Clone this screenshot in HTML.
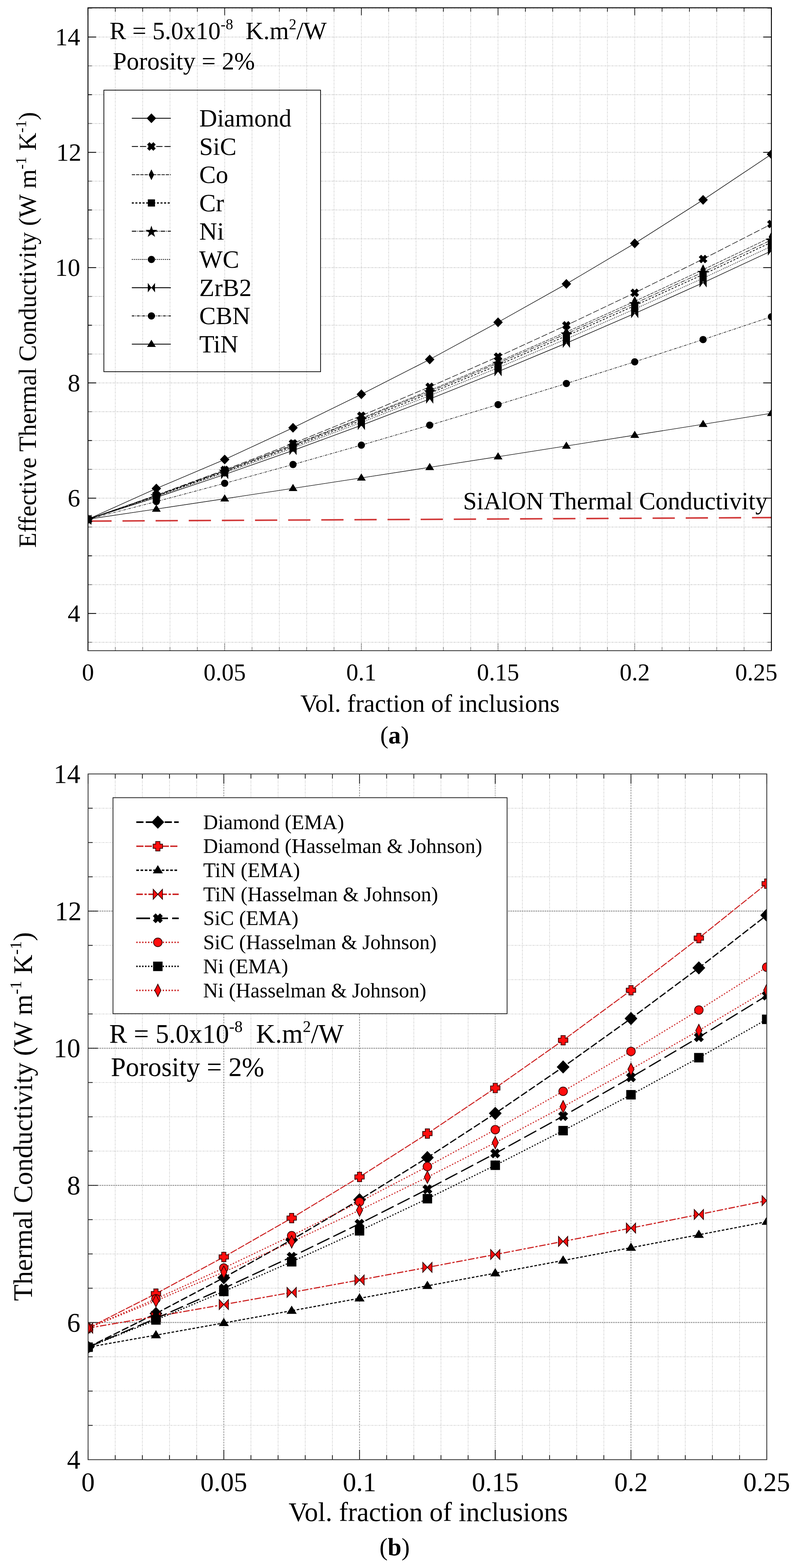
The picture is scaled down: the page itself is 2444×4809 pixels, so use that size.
<!DOCTYPE html>
<html><head><meta charset="utf-8"><title>Thermal conductivity plots</title><style>html,body{margin:0;padding:0;background:#fff;}svg{display:block;}</style></head><body>
<svg width="2444" height="4809" viewBox="0 0 2444 4809" font-family="'Liberation Serif', 'Times New Roman', serif" fill="#000">
<rect width="2444" height="4809" fill="#fff"/>
<defs><clipPath id="ca"><rect x="269.8" y="23.8" width="2095.7" height="1971.9"/></clipPath><clipPath id="cb"><rect x="270.1" y="2373.7" width="2081.2" height="2103.1"/></clipPath></defs>
<g stroke="#cecece" stroke-width="2.2" stroke-dasharray="5 2 2 2"><line x1="269.8" y1="1969.9" x2="2365.5" y2="1969.9"/><line x1="269.8" y1="1881.5" x2="2365.5" y2="1881.5"/><line x1="269.8" y1="1793.1" x2="2365.5" y2="1793.1"/><line x1="269.8" y1="1704.7" x2="2365.5" y2="1704.7"/><line x1="269.8" y1="1616.3" x2="2365.5" y2="1616.3"/><line x1="269.8" y1="1527.9" x2="2365.5" y2="1527.9"/><line x1="269.8" y1="1439.5" x2="2365.5" y2="1439.5"/><line x1="269.8" y1="1351.1" x2="2365.5" y2="1351.1"/><line x1="269.8" y1="1262.7" x2="2365.5" y2="1262.7"/><line x1="269.8" y1="1174.3" x2="2365.5" y2="1174.3"/><line x1="269.8" y1="1085.9" x2="2365.5" y2="1085.9"/><line x1="269.8" y1="997.5" x2="2365.5" y2="997.5"/><line x1="269.8" y1="909.2" x2="2365.5" y2="909.2"/><line x1="269.8" y1="820.8" x2="2365.5" y2="820.8"/><line x1="269.8" y1="732.4" x2="2365.5" y2="732.4"/><line x1="269.8" y1="644.0" x2="2365.5" y2="644.0"/><line x1="269.8" y1="555.6" x2="2365.5" y2="555.6"/><line x1="269.8" y1="467.2" x2="2365.5" y2="467.2"/><line x1="269.8" y1="378.8" x2="2365.5" y2="378.8"/><line x1="269.8" y1="290.4" x2="2365.5" y2="290.4"/><line x1="269.8" y1="202.0" x2="2365.5" y2="202.0"/><line x1="269.8" y1="113.6" x2="2365.5" y2="113.6"/><line x1="269.8" y1="25.2" x2="2365.5" y2="25.2"/></g>
<rect x="318.5" y="276.5" width="664.5" height="863.5" fill="#fff"/>
<g stroke="#d6d6d6" stroke-width="2.2" stroke-dasharray="5 2 2 2"><line x1="353.6" y1="23.8" x2="353.6" y2="1995.7"/><line x1="437.5" y1="23.8" x2="437.5" y2="1995.7"/><line x1="521.3" y1="23.8" x2="521.3" y2="1995.7"/><line x1="605.1" y1="23.8" x2="605.1" y2="1995.7"/><line x1="689.0" y1="23.8" x2="689.0" y2="1995.7"/><line x1="772.8" y1="23.8" x2="772.8" y2="1995.7"/><line x1="856.6" y1="23.8" x2="856.6" y2="1995.7"/><line x1="940.4" y1="23.8" x2="940.4" y2="1995.7"/><line x1="1024.3" y1="23.8" x2="1024.3" y2="1995.7"/><line x1="1108.1" y1="23.8" x2="1108.1" y2="1995.7"/><line x1="1191.9" y1="23.8" x2="1191.9" y2="1995.7"/><line x1="1275.8" y1="23.8" x2="1275.8" y2="1995.7"/><line x1="1359.6" y1="23.8" x2="1359.6" y2="1995.7"/><line x1="1443.4" y1="23.8" x2="1443.4" y2="1995.7"/><line x1="1527.2" y1="23.8" x2="1527.2" y2="1995.7"/><line x1="1611.1" y1="23.8" x2="1611.1" y2="1995.7"/><line x1="1694.9" y1="23.8" x2="1694.9" y2="1995.7"/><line x1="1778.7" y1="23.8" x2="1778.7" y2="1995.7"/><line x1="1862.6" y1="23.8" x2="1862.6" y2="1995.7"/><line x1="1946.4" y1="23.8" x2="1946.4" y2="1995.7"/><line x1="2030.2" y1="23.8" x2="2030.2" y2="1995.7"/><line x1="2114.1" y1="23.8" x2="2114.1" y2="1995.7"/><line x1="2197.9" y1="23.8" x2="2197.9" y2="1995.7"/><line x1="2281.7" y1="23.8" x2="2281.7" y2="1995.7"/></g>
<g stroke="#3a3a3a" stroke-width="1.7" stroke-dasharray="4 2"><line x1="269.8" y1="1995.7" x2="269.8" y2="1972.7"/><line x1="353.6" y1="1995.7" x2="353.6" y2="1983.7"/><line x1="437.5" y1="1995.7" x2="437.5" y2="1983.7"/><line x1="521.3" y1="1995.7" x2="521.3" y2="1983.7"/><line x1="605.1" y1="1995.7" x2="605.1" y2="1983.7"/><line x1="689.0" y1="1995.7" x2="689.0" y2="1972.7"/><line x1="772.8" y1="1995.7" x2="772.8" y2="1983.7"/><line x1="856.6" y1="1995.7" x2="856.6" y2="1983.7"/><line x1="940.4" y1="1995.7" x2="940.4" y2="1983.7"/><line x1="1024.3" y1="1995.7" x2="1024.3" y2="1983.7"/><line x1="1108.1" y1="1995.7" x2="1108.1" y2="1972.7"/><line x1="1191.9" y1="1995.7" x2="1191.9" y2="1983.7"/><line x1="1275.8" y1="1995.7" x2="1275.8" y2="1983.7"/><line x1="1359.6" y1="1995.7" x2="1359.6" y2="1983.7"/><line x1="1443.4" y1="1995.7" x2="1443.4" y2="1983.7"/><line x1="1527.2" y1="1995.7" x2="1527.2" y2="1972.7"/><line x1="1611.1" y1="1995.7" x2="1611.1" y2="1983.7"/><line x1="1694.9" y1="1995.7" x2="1694.9" y2="1983.7"/><line x1="1778.7" y1="1995.7" x2="1778.7" y2="1983.7"/><line x1="1862.6" y1="1995.7" x2="1862.6" y2="1983.7"/><line x1="1946.4" y1="1995.7" x2="1946.4" y2="1972.7"/><line x1="2030.2" y1="1995.7" x2="2030.2" y2="1983.7"/><line x1="2114.1" y1="1995.7" x2="2114.1" y2="1983.7"/><line x1="2197.9" y1="1995.7" x2="2197.9" y2="1983.7"/><line x1="2281.7" y1="1995.7" x2="2281.7" y2="1983.7"/><line x1="2365.6" y1="1995.7" x2="2365.6" y2="1972.7"/></g>
<g stroke="#111" stroke-width="2.2"><line x1="269.8" y1="23.8" x2="269.8" y2="46.8"/><line x1="353.6" y1="23.8" x2="353.6" y2="35.8"/><line x1="437.5" y1="23.8" x2="437.5" y2="35.8"/><line x1="521.3" y1="23.8" x2="521.3" y2="35.8"/><line x1="605.1" y1="23.8" x2="605.1" y2="35.8"/><line x1="689.0" y1="23.8" x2="689.0" y2="46.8"/><line x1="772.8" y1="23.8" x2="772.8" y2="35.8"/><line x1="856.6" y1="23.8" x2="856.6" y2="35.8"/><line x1="940.4" y1="23.8" x2="940.4" y2="35.8"/><line x1="1024.3" y1="23.8" x2="1024.3" y2="35.8"/><line x1="1108.1" y1="23.8" x2="1108.1" y2="46.8"/><line x1="1191.9" y1="23.8" x2="1191.9" y2="35.8"/><line x1="1275.8" y1="23.8" x2="1275.8" y2="35.8"/><line x1="1359.6" y1="23.8" x2="1359.6" y2="35.8"/><line x1="1443.4" y1="23.8" x2="1443.4" y2="35.8"/><line x1="1527.2" y1="23.8" x2="1527.2" y2="46.8"/><line x1="1611.1" y1="23.8" x2="1611.1" y2="35.8"/><line x1="1694.9" y1="23.8" x2="1694.9" y2="35.8"/><line x1="1778.7" y1="23.8" x2="1778.7" y2="35.8"/><line x1="1862.6" y1="23.8" x2="1862.6" y2="35.8"/><line x1="1946.4" y1="23.8" x2="1946.4" y2="46.8"/><line x1="2030.2" y1="23.8" x2="2030.2" y2="35.8"/><line x1="2114.1" y1="23.8" x2="2114.1" y2="35.8"/><line x1="2197.9" y1="23.8" x2="2197.9" y2="35.8"/><line x1="2281.7" y1="23.8" x2="2281.7" y2="35.8"/><line x1="2365.6" y1="23.8" x2="2365.6" y2="46.8"/></g>
<g stroke="#000" stroke-width="2.5"><line x1="269.8" y1="1881.5" x2="294.8" y2="1881.5"/><line x1="2365.5" y1="1881.5" x2="2340.5" y2="1881.5"/><line x1="269.8" y1="1704.7" x2="281.8" y2="1704.7"/><line x1="2365.5" y1="1704.7" x2="2353.5" y2="1704.7"/><line x1="269.8" y1="1527.9" x2="294.8" y2="1527.9"/><line x1="2365.5" y1="1527.9" x2="2340.5" y2="1527.9"/><line x1="269.8" y1="1351.1" x2="281.8" y2="1351.1"/><line x1="2365.5" y1="1351.1" x2="2353.5" y2="1351.1"/><line x1="269.8" y1="1174.3" x2="294.8" y2="1174.3"/><line x1="2365.5" y1="1174.3" x2="2340.5" y2="1174.3"/><line x1="269.8" y1="997.5" x2="281.8" y2="997.5"/><line x1="2365.5" y1="997.5" x2="2353.5" y2="997.5"/><line x1="269.8" y1="820.8" x2="294.8" y2="820.8"/><line x1="2365.5" y1="820.8" x2="2340.5" y2="820.8"/><line x1="269.8" y1="644.0" x2="281.8" y2="644.0"/><line x1="2365.5" y1="644.0" x2="2353.5" y2="644.0"/><line x1="269.8" y1="467.2" x2="294.8" y2="467.2"/><line x1="2365.5" y1="467.2" x2="2340.5" y2="467.2"/><line x1="269.8" y1="290.4" x2="281.8" y2="290.4"/><line x1="2365.5" y1="290.4" x2="2353.5" y2="290.4"/><line x1="269.8" y1="113.6" x2="294.8" y2="113.6"/><line x1="2365.5" y1="113.6" x2="2340.5" y2="113.6"/></g>
<g stroke="#7a7a7a" stroke-width="2.5"><line x1="269.8" y1="1969.9" x2="281.8" y2="1969.9"/><line x1="2365.5" y1="1969.9" x2="2353.5" y2="1969.9"/><line x1="269.8" y1="1793.1" x2="281.8" y2="1793.1"/><line x1="2365.5" y1="1793.1" x2="2353.5" y2="1793.1"/><line x1="269.8" y1="1616.3" x2="281.8" y2="1616.3"/><line x1="2365.5" y1="1616.3" x2="2353.5" y2="1616.3"/><line x1="269.8" y1="1439.5" x2="281.8" y2="1439.5"/><line x1="2365.5" y1="1439.5" x2="2353.5" y2="1439.5"/><line x1="269.8" y1="1262.7" x2="281.8" y2="1262.7"/><line x1="2365.5" y1="1262.7" x2="2353.5" y2="1262.7"/><line x1="269.8" y1="1085.9" x2="281.8" y2="1085.9"/><line x1="2365.5" y1="1085.9" x2="2353.5" y2="1085.9"/><line x1="269.8" y1="909.2" x2="281.8" y2="909.2"/><line x1="2365.5" y1="909.2" x2="2353.5" y2="909.2"/><line x1="269.8" y1="732.4" x2="281.8" y2="732.4"/><line x1="2365.5" y1="732.4" x2="2353.5" y2="732.4"/><line x1="269.8" y1="555.6" x2="281.8" y2="555.6"/><line x1="2365.5" y1="555.6" x2="2353.5" y2="555.6"/><line x1="269.8" y1="378.8" x2="281.8" y2="378.8"/><line x1="2365.5" y1="378.8" x2="2353.5" y2="378.8"/><line x1="269.8" y1="202.0" x2="281.8" y2="202.0"/><line x1="2365.5" y1="202.0" x2="2353.5" y2="202.0"/><line x1="269.8" y1="25.2" x2="281.8" y2="25.2"/><line x1="2365.5" y1="25.2" x2="2353.5" y2="25.2"/></g>
<line x1="274" y1="1598.2" x2="2365" y2="1587.4" stroke="#d13838" stroke-width="4.6" stroke-dasharray="68.2 33.4"/>
<g clip-path="url(#ca)">
<polyline points="269.8,1592.4 479.4,1498.2 689.0,1409.3 898.5,1311.9 1108.1,1209.3 1317.7,1102.4 1527.3,988.4 1736.8,870.8 1946.4,746.5 2156.0,613.0 2365.6,473.0" fill="none" stroke="#000" stroke-width="1.6" stroke-linejoin="round"/>
<polyline points="269.8,1592.4 479.4,1518.7 689.0,1441.2 898.5,1360.0 1108.1,1275.0 1317.7,1186.4 1527.3,1094.0 1736.8,997.8 1946.4,898.0 2156.0,794.4 2365.6,687.1" fill="none" stroke="#000" stroke-width="1.6" stroke-dasharray="19 6" stroke-linejoin="round"/>
<polyline points="269.8,1592.4 479.4,1519.4 689.0,1443.4 898.5,1364.4 1108.1,1282.4 1317.7,1197.3 1527.3,1109.3 1736.8,1018.2 1946.4,924.2 2156.0,827.1 2365.6,727.1" fill="none" stroke="#000" stroke-width="1.4" stroke-dasharray="10 3" stroke-linejoin="round"/>
<polyline points="269.8,1592.4 479.4,1521.3 689.0,1447.2 898.5,1369.9 1108.1,1289.6 1317.7,1206.2 1527.3,1119.7 1736.8,1030.1 1946.4,937.5 2156.0,841.8 2365.6,743.0" fill="none" stroke="#000" stroke-width="2.2" stroke-dasharray="6 5" stroke-linejoin="round"/>
<polyline points="269.8,1592.4 479.4,1520.0 689.0,1444.6 898.5,1366.3 1108.1,1285.0 1317.7,1200.9 1527.3,1113.7 1736.8,1023.7 1946.4,930.7 2156.0,834.8 2365.6,735.9" fill="none" stroke="#000" stroke-width="1.6" stroke-dasharray="14 3 2 3" stroke-linejoin="round"/>
<polyline points="269.8,1592.4 479.4,1522.9 689.0,1450.2 898.5,1374.4 1108.1,1295.4 1317.7,1213.2 1527.3,1128.0 1736.8,1039.5 1946.4,947.9 2156.0,853.2 2365.6,755.3" fill="none" stroke="#000" stroke-width="1.6" stroke-dasharray="3 3" stroke-linejoin="round"/>
<polyline points="269.8,1592.4 479.4,1525.6 689.0,1455.3 898.5,1381.6 1108.1,1304.4 1317.7,1223.8 1527.3,1139.8 1736.8,1052.4 1946.4,961.5 2156.0,867.2 2365.6,769.5" fill="none" stroke="#000" stroke-width="1.7" stroke-linejoin="round"/>
<polyline points="269.8,1592.4 479.4,1538.3 689.0,1482.3 898.5,1424.6 1108.1,1365.2 1317.7,1303.9 1527.3,1240.9 1736.8,1176.2 1946.4,1109.7 2156.0,1041.4 2365.6,971.4" fill="none" stroke="#000" stroke-width="1.6" stroke-dasharray="8 3 2 3" stroke-linejoin="round"/>
<polyline points="269.8,1592.4 479.4,1561.2 689.0,1529.6 898.5,1497.8 1108.1,1465.7 1317.7,1433.3 1527.3,1400.7 1736.8,1367.8 1946.4,1334.6 2156.0,1301.2 2365.6,1267.5" fill="none" stroke="#000" stroke-width="1.6" stroke-linejoin="round"/>
<polygon points="269.8,1577.4 284.3,1592.4 269.8,1607.4 255.3,1592.4" fill="#000"/>
<polygon points="479.4,1483.2 493.9,1498.2 479.4,1513.2 464.9,1498.2" fill="#000"/>
<polygon points="689.0,1394.3 703.5,1409.3 689.0,1424.3 674.5,1409.3" fill="#000"/>
<polygon points="898.5,1296.9 913.0,1311.9 898.5,1326.9 884.0,1311.9" fill="#000"/>
<polygon points="1108.1,1194.3 1122.6,1209.3 1108.1,1224.3 1093.6,1209.3" fill="#000"/>
<polygon points="1317.7,1087.4 1332.2,1102.4 1317.7,1117.4 1303.2,1102.4" fill="#000"/>
<polygon points="1527.3,973.4 1541.8,988.4 1527.3,1003.4 1512.8,988.4" fill="#000"/>
<polygon points="1736.8,855.8 1751.3,870.8 1736.8,885.8 1722.3,870.8" fill="#000"/>
<polygon points="1946.4,731.5 1960.9,746.5 1946.4,761.5 1931.9,746.5" fill="#000"/>
<polygon points="2156.0,598.0 2170.5,613.0 2156.0,628.0 2141.5,613.0" fill="#000"/>
<polygon points="2365.6,458.0 2380.1,473.0 2365.6,488.0 2351.1,473.0" fill="#000"/>
<polygon points="283.0,1598.3 275.7,1605.7 269.8,1599.8 263.9,1605.7 256.6,1598.3 262.5,1592.4 256.6,1586.6 263.9,1579.2 269.8,1585.1 275.7,1579.2 283.0,1586.6 277.1,1592.4" fill="#000"/>
<polygon points="492.6,1524.6 485.2,1531.9 479.4,1526.0 473.5,1531.9 466.2,1524.6 472.0,1518.7 466.2,1512.8 473.5,1505.5 479.4,1511.4 485.2,1505.5 492.6,1512.8 486.7,1518.7" fill="#000"/>
<polygon points="702.2,1447.1 694.8,1454.4 689.0,1448.5 683.1,1454.4 675.7,1447.1 681.6,1441.2 675.7,1435.3 683.1,1428.0 689.0,1433.9 694.8,1428.0 702.2,1435.3 696.3,1441.2" fill="#000"/>
<polygon points="911.7,1365.8 904.4,1373.2 898.5,1367.3 892.7,1373.2 885.3,1365.8 891.2,1360.0 885.3,1354.1 892.7,1346.8 898.5,1352.6 904.4,1346.8 911.7,1354.1 905.9,1360.0" fill="#000"/>
<polygon points="1121.3,1280.9 1114.0,1288.3 1108.1,1282.4 1102.2,1288.3 1094.9,1280.9 1100.8,1275.0 1094.9,1269.2 1102.2,1261.8 1108.1,1267.7 1114.0,1261.8 1121.3,1269.2 1115.4,1275.0" fill="#000"/>
<polygon points="1330.9,1192.2 1323.5,1199.6 1317.7,1193.7 1311.8,1199.6 1304.5,1192.2 1310.3,1186.4 1304.5,1180.5 1311.8,1173.1 1317.7,1179.0 1323.5,1173.1 1330.9,1180.5 1325.0,1186.4" fill="#000"/>
<polygon points="1540.5,1099.8 1533.1,1107.2 1527.3,1101.3 1521.4,1107.2 1514.0,1099.8 1519.9,1094.0 1514.0,1088.1 1521.4,1080.7 1527.3,1086.6 1533.1,1080.7 1540.5,1088.1 1534.6,1094.0" fill="#000"/>
<polygon points="1750.0,1003.7 1742.7,1011.1 1736.8,1005.2 1731.0,1011.1 1723.6,1003.7 1729.5,997.8 1723.6,992.0 1731.0,984.6 1736.8,990.5 1742.7,984.6 1750.0,992.0 1744.2,997.8" fill="#000"/>
<polygon points="1959.6,903.9 1952.3,911.2 1946.4,905.3 1940.5,911.2 1933.2,903.9 1939.1,898.0 1933.2,892.1 1940.5,884.8 1946.4,890.7 1952.3,884.8 1959.6,892.1 1953.7,898.0" fill="#000"/>
<polygon points="2169.2,800.3 2161.8,807.6 2156.0,801.7 2150.1,807.6 2142.8,800.3 2148.6,794.4 2142.8,788.5 2150.1,781.2 2156.0,787.1 2161.8,781.2 2169.2,788.5 2163.3,794.4" fill="#000"/>
<polygon points="2378.8,693.0 2371.4,700.3 2365.6,694.4 2359.7,700.3 2352.3,693.0 2358.2,687.1 2352.3,681.2 2359.7,673.9 2365.6,679.8 2371.4,673.9 2378.8,681.2 2372.9,687.1" fill="#000"/>
<polygon points="269.8,1575.9 278.1,1592.4 269.8,1608.9 261.5,1592.4" fill="#000"/>
<polygon points="479.4,1502.9 487.7,1519.4 479.4,1535.9 471.1,1519.4" fill="#000"/>
<polygon points="689.0,1426.9 697.2,1443.4 689.0,1459.9 680.7,1443.4" fill="#000"/>
<polygon points="898.5,1347.9 906.8,1364.4 898.5,1380.9 890.2,1364.4" fill="#000"/>
<polygon points="1108.1,1265.9 1116.4,1282.4 1108.1,1298.9 1099.8,1282.4" fill="#000"/>
<polygon points="1317.7,1180.8 1326.0,1197.3 1317.7,1213.8 1309.4,1197.3" fill="#000"/>
<polygon points="1527.3,1092.8 1535.6,1109.3 1527.3,1125.8 1519.0,1109.3" fill="#000"/>
<polygon points="1736.8,1001.7 1745.1,1018.2 1736.8,1034.7 1728.5,1018.2" fill="#000"/>
<polygon points="1946.4,907.7 1954.7,924.2 1946.4,940.7 1938.1,924.2" fill="#000"/>
<polygon points="2156.0,810.6 2164.3,827.1 2156.0,843.6 2147.7,827.1" fill="#000"/>
<polygon points="2365.6,710.6 2373.9,727.1 2365.6,743.6 2357.2,727.1" fill="#000"/>
<rect x="258.8" y="1581.4" width="22.0" height="22.0" fill="#000"/>
<rect x="468.4" y="1510.3" width="22.0" height="22.0" fill="#000"/>
<rect x="678.0" y="1436.2" width="22.0" height="22.0" fill="#000"/>
<rect x="887.5" y="1358.9" width="22.0" height="22.0" fill="#000"/>
<rect x="1097.1" y="1278.6" width="22.0" height="22.0" fill="#000"/>
<rect x="1306.7" y="1195.2" width="22.0" height="22.0" fill="#000"/>
<rect x="1516.3" y="1108.7" width="22.0" height="22.0" fill="#000"/>
<rect x="1725.8" y="1019.1" width="22.0" height="22.0" fill="#000"/>
<rect x="1935.4" y="926.5" width="22.0" height="22.0" fill="#000"/>
<rect x="2145.0" y="830.8" width="22.0" height="22.0" fill="#000"/>
<rect x="2354.6" y="732.0" width="22.0" height="22.0" fill="#000"/>
<polygon points="269.8,1575.4 274.2,1588.4 287.9,1588.6 276.9,1596.8 281.0,1609.8 269.8,1601.9 258.6,1609.8 262.7,1596.8 251.7,1588.6 265.4,1588.4" fill="#000"/>
<polygon points="479.4,1503.0 483.8,1515.9 497.4,1516.1 486.5,1524.3 490.5,1537.4 479.4,1529.5 468.2,1537.4 472.2,1524.3 461.3,1516.1 475.0,1515.9" fill="#000"/>
<polygon points="689.0,1427.6 693.4,1440.5 707.0,1440.7 696.1,1448.9 700.1,1462.0 689.0,1454.1 677.8,1462.0 681.8,1448.9 670.9,1440.7 684.5,1440.5" fill="#000"/>
<polygon points="898.5,1349.3 902.9,1362.2 916.6,1362.4 905.7,1370.6 909.7,1383.7 898.5,1375.8 887.4,1383.7 891.4,1370.6 880.5,1362.4 894.1,1362.2" fill="#000"/>
<polygon points="1108.1,1268.0 1112.5,1281.0 1126.2,1281.2 1115.2,1289.4 1119.3,1302.4 1108.1,1294.5 1096.9,1302.4 1101.0,1289.4 1090.0,1281.2 1103.7,1281.0" fill="#000"/>
<polygon points="1317.7,1183.9 1322.1,1196.8 1335.7,1197.0 1324.8,1205.2 1328.8,1218.2 1317.7,1210.4 1306.5,1218.2 1310.5,1205.2 1299.6,1197.0 1313.3,1196.8" fill="#000"/>
<polygon points="1527.3,1096.7 1531.7,1109.7 1545.3,1109.9 1534.4,1118.1 1538.4,1131.1 1527.3,1123.2 1516.1,1131.1 1520.1,1118.1 1509.2,1109.9 1522.8,1109.7" fill="#000"/>
<polygon points="1736.8,1006.7 1741.2,1019.6 1754.9,1019.8 1744.0,1028.0 1748.0,1041.1 1736.8,1033.2 1725.7,1041.1 1729.7,1028.0 1718.8,1019.8 1732.4,1019.6" fill="#000"/>
<polygon points="1946.4,913.7 1950.8,926.6 1964.5,926.8 1953.5,935.0 1957.6,948.1 1946.4,940.2 1935.2,948.1 1939.3,935.0 1928.3,926.8 1942.0,926.6" fill="#000"/>
<polygon points="2156.0,817.8 2160.4,830.7 2174.0,830.9 2163.1,839.1 2167.1,852.1 2156.0,844.3 2144.8,852.1 2148.8,839.1 2137.9,830.9 2151.6,830.7" fill="#000"/>
<polygon points="2365.6,718.9 2370.0,731.8 2383.6,732.0 2372.7,740.2 2376.7,753.3 2365.6,745.4 2354.4,753.3 2358.4,740.2 2347.5,732.0 2361.1,731.8" fill="#000"/>
<circle cx="269.8" cy="1592.4" r="11.0" fill="#000"/>
<circle cx="479.4" cy="1522.9" r="11.0" fill="#000"/>
<circle cx="689.0" cy="1450.2" r="11.0" fill="#000"/>
<circle cx="898.5" cy="1374.4" r="11.0" fill="#000"/>
<circle cx="1108.1" cy="1295.4" r="11.0" fill="#000"/>
<circle cx="1317.7" cy="1213.2" r="11.0" fill="#000"/>
<circle cx="1527.3" cy="1128.0" r="11.0" fill="#000"/>
<circle cx="1736.8" cy="1039.5" r="11.0" fill="#000"/>
<circle cx="1946.4" cy="947.9" r="11.0" fill="#000"/>
<circle cx="2156.0" cy="853.2" r="11.0" fill="#000"/>
<circle cx="2365.6" cy="755.3" r="11.0" fill="#000"/>
<polygon points="258.8,1577.9 269.8,1592.4 258.8,1606.9" fill="#000"/><polygon points="280.8,1577.9 269.8,1592.4 280.8,1606.9" fill="#000"/>
<polygon points="468.4,1511.1 479.4,1525.6 468.4,1540.1" fill="#000"/><polygon points="490.4,1511.1 479.4,1525.6 490.4,1540.1" fill="#000"/>
<polygon points="678.0,1440.8 689.0,1455.3 678.0,1469.8" fill="#000"/><polygon points="700.0,1440.8 689.0,1455.3 700.0,1469.8" fill="#000"/>
<polygon points="887.5,1367.1 898.5,1381.6 887.5,1396.1" fill="#000"/><polygon points="909.5,1367.1 898.5,1381.6 909.5,1396.1" fill="#000"/>
<polygon points="1097.1,1289.9 1108.1,1304.4 1097.1,1318.9" fill="#000"/><polygon points="1119.1,1289.9 1108.1,1304.4 1119.1,1318.9" fill="#000"/>
<polygon points="1306.7,1209.3 1317.7,1223.8 1306.7,1238.3" fill="#000"/><polygon points="1328.7,1209.3 1317.7,1223.8 1328.7,1238.3" fill="#000"/>
<polygon points="1516.3,1125.3 1527.3,1139.8 1516.3,1154.3" fill="#000"/><polygon points="1538.3,1125.3 1527.3,1139.8 1538.3,1154.3" fill="#000"/>
<polygon points="1725.8,1037.9 1736.8,1052.4 1725.8,1066.9" fill="#000"/><polygon points="1747.8,1037.9 1736.8,1052.4 1747.8,1066.9" fill="#000"/>
<polygon points="1935.4,947.0 1946.4,961.5 1935.4,976.0" fill="#000"/><polygon points="1957.4,947.0 1946.4,961.5 1957.4,976.0" fill="#000"/>
<polygon points="2145.0,852.7 2156.0,867.2 2145.0,881.7" fill="#000"/><polygon points="2167.0,852.7 2156.0,867.2 2167.0,881.7" fill="#000"/>
<polygon points="2354.6,755.0 2365.6,769.5 2354.6,784.0" fill="#000"/><polygon points="2376.6,755.0 2365.6,769.5 2376.6,784.0" fill="#000"/>
<circle cx="269.8" cy="1592.4" r="11.0" fill="#000"/>
<circle cx="479.4" cy="1538.3" r="11.0" fill="#000"/>
<circle cx="689.0" cy="1482.3" r="11.0" fill="#000"/>
<circle cx="898.5" cy="1424.6" r="11.0" fill="#000"/>
<circle cx="1108.1" cy="1365.2" r="11.0" fill="#000"/>
<circle cx="1317.7" cy="1303.9" r="11.0" fill="#000"/>
<circle cx="1527.3" cy="1240.9" r="11.0" fill="#000"/>
<circle cx="1736.8" cy="1176.2" r="11.0" fill="#000"/>
<circle cx="1946.4" cy="1109.7" r="11.0" fill="#000"/>
<circle cx="2156.0" cy="1041.4" r="11.0" fill="#000"/>
<circle cx="2365.6" cy="971.4" r="11.0" fill="#000"/>
<polygon points="269.8,1578.8 283.3,1600.8 256.3,1600.8" fill="#000"/>
<polygon points="479.4,1547.5 492.9,1569.5 465.9,1569.5" fill="#000"/>
<polygon points="689.0,1516.0 702.5,1538.0 675.5,1538.0" fill="#000"/>
<polygon points="898.5,1484.1 912.0,1506.1 885.0,1506.1" fill="#000"/>
<polygon points="1108.1,1452.1 1121.6,1474.1 1094.6,1474.1" fill="#000"/>
<polygon points="1317.7,1419.7 1331.2,1441.7 1304.2,1441.7" fill="#000"/>
<polygon points="1527.3,1387.1 1540.8,1409.1 1513.8,1409.1" fill="#000"/>
<polygon points="1736.8,1354.2 1750.3,1376.2 1723.3,1376.2" fill="#000"/>
<polygon points="1946.4,1321.0 1959.9,1343.0 1932.9,1343.0" fill="#000"/>
<polygon points="2156.0,1287.6 2169.5,1309.6 2142.5,1309.6" fill="#000"/>
<polygon points="2365.6,1253.9 2379.1,1275.9 2352.1,1275.9" fill="#000"/>
</g>
<polyline points="269.8,1995.7 269.8,23.8 2365.5,23.8 2365.5,1995.7" fill="none" stroke="#000" stroke-width="2.8"/>
<line x1="268.4" y1="1995.7" x2="2366.9" y2="1995.7" stroke="#444" stroke-width="2.8"/>
<rect x="318.5" y="276.5" width="664.5" height="863.5" fill="none" stroke="#000" stroke-width="2.2"/>
<polyline points="404.3,362.7 523.8,362.7" fill="none" stroke="#000" stroke-width="2.6" stroke-linejoin="round"/>
<polygon points="464.3,347.7 478.8,362.7 464.3,377.7 449.8,362.7" fill="#000"/>
<text x="611.0" y="388.2" font-size="76" text-anchor="start">Diamond</text>
<polyline points="404.3,449.3 523.8,449.3" fill="none" stroke="#000" stroke-width="2.6" stroke-dasharray="19 6" stroke-linejoin="round"/>
<polygon points="477.5,455.2 470.2,462.5 464.3,456.6 458.4,462.5 451.1,455.2 457.0,449.3 451.1,443.4 458.4,436.1 464.3,442.0 470.2,436.1 477.5,443.4 471.6,449.3" fill="#000"/>
<text x="611.0" y="474.8" font-size="76" text-anchor="start">SiC</text>
<polyline points="404.3,535.9 523.8,535.9" fill="none" stroke="#000" stroke-width="2.4" stroke-dasharray="10 3" stroke-linejoin="round"/>
<polygon points="464.3,519.4 472.6,535.9 464.3,552.4 456.0,535.9" fill="#000"/>
<text x="611.0" y="561.4" font-size="76" text-anchor="start">Co</text>
<polyline points="404.3,622.5 523.8,622.5" fill="none" stroke="#000" stroke-width="4.2" stroke-dasharray="6 5" stroke-linejoin="round"/>
<rect x="453.3" y="611.5" width="22.0" height="22.0" fill="#000"/>
<text x="611.0" y="648.0" font-size="76" text-anchor="start">Cr</text>
<polyline points="404.3,709.1 523.8,709.1" fill="none" stroke="#000" stroke-width="2.6" stroke-dasharray="14 3 2 3" stroke-linejoin="round"/>
<polygon points="464.3,692.1 468.7,705.0 482.4,705.2 471.4,713.4 475.5,726.5 464.3,718.6 453.1,726.5 457.2,713.4 446.2,705.2 459.9,705.0" fill="#000"/>
<text x="611.0" y="734.6" font-size="76" text-anchor="start">Ni</text>
<polyline points="404.3,795.7 523.8,795.7" fill="none" stroke="#000" stroke-width="2.6" stroke-dasharray="3 3" stroke-linejoin="round"/>
<circle cx="464.3" cy="795.7" r="11.0" fill="#000"/>
<text x="611.0" y="821.2" font-size="76" text-anchor="start">WC</text>
<polyline points="404.3,882.3 523.8,882.3" fill="none" stroke="#000" stroke-width="2.7" stroke-linejoin="round"/>
<polygon points="453.3,867.8 464.3,882.3 453.3,896.8" fill="#000"/><polygon points="475.3,867.8 464.3,882.3 475.3,896.8" fill="#000"/>
<text x="611.0" y="907.8" font-size="76" text-anchor="start">ZrB2</text>
<polyline points="404.3,968.9 523.8,968.9" fill="none" stroke="#000" stroke-width="2.6" stroke-dasharray="8 3 2 3" stroke-linejoin="round"/>
<circle cx="464.3" cy="968.9" r="11.0" fill="#000"/>
<text x="611.0" y="994.4" font-size="76" text-anchor="start">CBN</text>
<polyline points="404.3,1055.5 523.8,1055.5" fill="none" stroke="#000" stroke-width="2.6" stroke-linejoin="round"/>
<polygon points="464.3,1041.9 477.8,1063.9 450.8,1063.9" fill="#000"/>
<text x="611.0" y="1081.0" font-size="76" text-anchor="start">TiN</text>
<text x="336.0" y="119.8" font-size="76" text-anchor="start" xml:space="preserve">R = 5.0x10<tspan dy="-30" font-size="46">-8</tspan><tspan dy="30"> </tspan> K.m<tspan dy="-30" font-size="46">2</tspan><tspan dy="30">/W</tspan></text>
<text x="346.0" y="213.4" font-size="76" text-anchor="start">Porosity = 2%</text>
<text x="1420.0" y="1562.2" font-size="75.5" text-anchor="start">SiAlON Thermal Conductivity</text>
<text x="246.0" y="139.1" font-size="77" text-anchor="end">14</text>
<text x="249.5" y="492.7" font-size="77" text-anchor="end">12</text>
<text x="246.0" y="846.3" font-size="77" text-anchor="end">10</text>
<text x="246.0" y="1199.8" font-size="77" text-anchor="end">8</text>
<text x="246.0" y="1553.4" font-size="77" text-anchor="end">6</text>
<text x="246.0" y="1907.0" font-size="77" text-anchor="end">4</text>
<text x="269.8" y="2086.5" font-size="74" text-anchor="middle">0</text>
<text x="689.0" y="2086.5" font-size="74" text-anchor="middle">0.05</text>
<text x="1108.1" y="2086.5" font-size="74" text-anchor="middle">0.1</text>
<text x="1527.2" y="2086.5" font-size="74" text-anchor="middle">0.15</text>
<text x="1946.4" y="2086.5" font-size="74" text-anchor="middle">0.2</text>
<text x="2384.0" y="2086.5" font-size="74" text-anchor="end">0.25</text>
<text x="921.0" y="2183.3" font-size="76.7" text-anchor="start">Vol. fraction of inclusions</text>
<text transform="translate(110,1680) rotate(-90)" font-size="76">Effective Thermal Conductivity (W m<tspan dy="-30" font-size="46">-1</tspan><tspan dy="30"> K</tspan><tspan dy="-30" font-size="46">-1</tspan><tspan dy="30">)</tspan></text>
<text x="1210" y="2279.5" font-size="76" text-anchor="middle">(<tspan font-weight="bold">a</tspan>)</text>
<g stroke="#d6d6d6" stroke-width="2.2" stroke-dasharray="5 2 2 2"><line x1="353.3" y1="2373.7" x2="353.3" y2="4476.8"/><line x1="436.6" y1="2373.7" x2="436.6" y2="4476.8"/><line x1="519.8" y1="2373.7" x2="519.8" y2="4476.8"/><line x1="603.1" y1="2373.7" x2="603.1" y2="4476.8"/><line x1="769.5" y1="2373.7" x2="769.5" y2="4476.8"/><line x1="852.8" y1="2373.7" x2="852.8" y2="4476.8"/><line x1="936.0" y1="2373.7" x2="936.0" y2="4476.8"/><line x1="1019.3" y1="2373.7" x2="1019.3" y2="4476.8"/><line x1="1185.7" y1="2373.7" x2="1185.7" y2="4476.8"/><line x1="1269.0" y1="2373.7" x2="1269.0" y2="4476.8"/><line x1="1352.2" y1="2373.7" x2="1352.2" y2="4476.8"/><line x1="1435.5" y1="2373.7" x2="1435.5" y2="4476.8"/><line x1="1601.9" y1="2373.7" x2="1601.9" y2="4476.8"/><line x1="1685.2" y1="2373.7" x2="1685.2" y2="4476.8"/><line x1="1768.4" y1="2373.7" x2="1768.4" y2="4476.8"/><line x1="1851.7" y1="2373.7" x2="1851.7" y2="4476.8"/><line x1="2018.1" y1="2373.7" x2="2018.1" y2="4476.8"/><line x1="2101.4" y1="2373.7" x2="2101.4" y2="4476.8"/><line x1="2184.6" y1="2373.7" x2="2184.6" y2="4476.8"/><line x1="2267.9" y1="2373.7" x2="2267.9" y2="4476.8"/><line x1="270.1" y1="4371.6" x2="2351.3" y2="4371.6"/><line x1="270.1" y1="4266.4" x2="2351.3" y2="4266.4"/><line x1="270.1" y1="4161.2" x2="2351.3" y2="4161.2"/><line x1="270.1" y1="3950.9" x2="2351.3" y2="3950.9"/><line x1="270.1" y1="3845.8" x2="2351.3" y2="3845.8"/><line x1="270.1" y1="3740.6" x2="2351.3" y2="3740.6"/><line x1="270.1" y1="3530.3" x2="2351.3" y2="3530.3"/><line x1="270.1" y1="3425.2" x2="2351.3" y2="3425.2"/><line x1="270.1" y1="3320.0" x2="2351.3" y2="3320.0"/><line x1="270.1" y1="3109.8" x2="2351.3" y2="3109.8"/><line x1="270.1" y1="3004.6" x2="2351.3" y2="3004.6"/><line x1="270.1" y1="2899.4" x2="2351.3" y2="2899.4"/><line x1="270.1" y1="2689.1" x2="2351.3" y2="2689.1"/><line x1="270.1" y1="2584.0" x2="2351.3" y2="2584.0"/><line x1="270.1" y1="2478.8" x2="2351.3" y2="2478.8"/></g>
<g stroke="#8c8c8c" stroke-width="2.2" stroke-dasharray="5 3"><line x1="686.3" y1="2373.7" x2="686.3" y2="4476.8"/><line x1="1102.5" y1="2373.7" x2="1102.5" y2="4476.8"/><line x1="1934.9" y1="2373.7" x2="1934.9" y2="4476.8"/></g>
<g stroke="#9a9a9a" stroke-width="3" stroke-dasharray="5 2"><line x1="270.1" y1="4056.1" x2="2351.3" y2="4056.1"/><line x1="270.1" y1="3635.5" x2="2351.3" y2="3635.5"/><line x1="270.1" y1="3214.9" x2="2351.3" y2="3214.9"/><line x1="270.1" y1="2794.3" x2="2351.3" y2="2794.3"/></g>
<g stroke="#cdcdcd" stroke-width="4" stroke-dasharray="5 2"><line x1="1518.7" y1="2373.7" x2="1518.7" y2="4476.8"/></g>
<g stroke="#222" stroke-width="2.5"><line x1="270.1" y1="4476.8" x2="270.1" y2="4446.8"/><line x1="270.1" y1="2373.7" x2="270.1" y2="2403.7"/><line x1="353.3" y1="4476.8" x2="353.3" y2="4462.8"/><line x1="353.3" y1="2373.7" x2="353.3" y2="2387.7"/><line x1="436.6" y1="4476.8" x2="436.6" y2="4462.8"/><line x1="436.6" y1="2373.7" x2="436.6" y2="2387.7"/><line x1="519.8" y1="4476.8" x2="519.8" y2="4462.8"/><line x1="519.8" y1="2373.7" x2="519.8" y2="2387.7"/><line x1="603.1" y1="4476.8" x2="603.1" y2="4462.8"/><line x1="603.1" y1="2373.7" x2="603.1" y2="2387.7"/><line x1="686.3" y1="4476.8" x2="686.3" y2="4446.8"/><line x1="686.3" y1="2373.7" x2="686.3" y2="2403.7"/><line x1="769.5" y1="4476.8" x2="769.5" y2="4462.8"/><line x1="769.5" y1="2373.7" x2="769.5" y2="2387.7"/><line x1="852.8" y1="4476.8" x2="852.8" y2="4462.8"/><line x1="852.8" y1="2373.7" x2="852.8" y2="2387.7"/><line x1="936.0" y1="4476.8" x2="936.0" y2="4462.8"/><line x1="936.0" y1="2373.7" x2="936.0" y2="2387.7"/><line x1="1019.3" y1="4476.8" x2="1019.3" y2="4462.8"/><line x1="1019.3" y1="2373.7" x2="1019.3" y2="2387.7"/><line x1="1102.5" y1="4476.8" x2="1102.5" y2="4446.8"/><line x1="1102.5" y1="2373.7" x2="1102.5" y2="2403.7"/><line x1="1185.7" y1="4476.8" x2="1185.7" y2="4462.8"/><line x1="1185.7" y1="2373.7" x2="1185.7" y2="2387.7"/><line x1="1269.0" y1="4476.8" x2="1269.0" y2="4462.8"/><line x1="1269.0" y1="2373.7" x2="1269.0" y2="2387.7"/><line x1="1352.2" y1="4476.8" x2="1352.2" y2="4462.8"/><line x1="1352.2" y1="2373.7" x2="1352.2" y2="2387.7"/><line x1="1435.5" y1="4476.8" x2="1435.5" y2="4462.8"/><line x1="1435.5" y1="2373.7" x2="1435.5" y2="2387.7"/><line x1="1518.7" y1="4476.8" x2="1518.7" y2="4446.8"/><line x1="1518.7" y1="2373.7" x2="1518.7" y2="2403.7"/><line x1="1601.9" y1="4476.8" x2="1601.9" y2="4462.8"/><line x1="1601.9" y1="2373.7" x2="1601.9" y2="2387.7"/><line x1="1685.2" y1="4476.8" x2="1685.2" y2="4462.8"/><line x1="1685.2" y1="2373.7" x2="1685.2" y2="2387.7"/><line x1="1768.4" y1="4476.8" x2="1768.4" y2="4462.8"/><line x1="1768.4" y1="2373.7" x2="1768.4" y2="2387.7"/><line x1="1851.7" y1="4476.8" x2="1851.7" y2="4462.8"/><line x1="1851.7" y1="2373.7" x2="1851.7" y2="2387.7"/><line x1="1934.9" y1="4476.8" x2="1934.9" y2="4446.8"/><line x1="1934.9" y1="2373.7" x2="1934.9" y2="2403.7"/><line x1="2018.1" y1="4476.8" x2="2018.1" y2="4462.8"/><line x1="2018.1" y1="2373.7" x2="2018.1" y2="2387.7"/><line x1="2101.4" y1="4476.8" x2="2101.4" y2="4462.8"/><line x1="2101.4" y1="2373.7" x2="2101.4" y2="2387.7"/><line x1="2184.6" y1="4476.8" x2="2184.6" y2="4462.8"/><line x1="2184.6" y1="2373.7" x2="2184.6" y2="2387.7"/><line x1="2267.9" y1="4476.8" x2="2267.9" y2="4462.8"/><line x1="2267.9" y1="2373.7" x2="2267.9" y2="2387.7"/><line x1="2351.1" y1="4476.8" x2="2351.1" y2="4446.8"/><line x1="2351.1" y1="2373.7" x2="2351.1" y2="2403.7"/><line x1="270.1" y1="4371.6" x2="284.1" y2="4371.6"/><line x1="270.1" y1="4266.4" x2="284.1" y2="4266.4"/><line x1="270.1" y1="4161.2" x2="284.1" y2="4161.2"/><line x1="270.1" y1="4056.1" x2="300.1" y2="4056.1"/><line x1="270.1" y1="3950.9" x2="284.1" y2="3950.9"/><line x1="270.1" y1="3845.8" x2="284.1" y2="3845.8"/><line x1="270.1" y1="3740.6" x2="284.1" y2="3740.6"/><line x1="270.1" y1="3635.5" x2="300.1" y2="3635.5"/><line x1="270.1" y1="3530.3" x2="284.1" y2="3530.3"/><line x1="270.1" y1="3425.2" x2="284.1" y2="3425.2"/><line x1="270.1" y1="3320.0" x2="284.1" y2="3320.0"/><line x1="270.1" y1="3214.9" x2="300.1" y2="3214.9"/><line x1="270.1" y1="3109.8" x2="284.1" y2="3109.8"/><line x1="270.1" y1="3004.6" x2="284.1" y2="3004.6"/><line x1="270.1" y1="2899.4" x2="284.1" y2="2899.4"/><line x1="270.1" y1="2794.3" x2="300.1" y2="2794.3"/><line x1="270.1" y1="2689.1" x2="284.1" y2="2689.1"/><line x1="270.1" y1="2584.0" x2="284.1" y2="2584.0"/><line x1="270.1" y1="2478.8" x2="284.1" y2="2478.8"/></g>
<g clip-path="url(#cb)">
<polyline points="270.1,4131.8 478.2,4028.5 686.3,3918.6 894.4,3802.4 1102.5,3679.6 1310.6,3550.3 1518.7,3414.6 1726.8,3272.4 1934.9,3123.7 2143.0,2968.6 2351.1,2806.9" fill="none" stroke="#000" stroke-width="3.8" stroke-dasharray="22 7" stroke-linejoin="round"/>
<polyline points="270.1,4073.3 478.2,3967.6 686.3,3855.1 894.4,3735.8 1102.5,3609.6 1310.6,3476.7 1518.7,3337.0 1726.8,3190.5 1934.9,3037.2 2143.0,2877.1 2351.1,2710.2" fill="none" stroke="#cc2020" stroke-width="3.0" stroke-dasharray="22 4" stroke-linejoin="round"/>
<polyline points="270.1,4131.8 478.2,4094.8 686.3,4057.5 894.4,4019.9 1102.5,3981.9 1310.6,3943.6 1518.7,3904.9 1726.8,3865.9 1934.9,3826.6 2143.0,3787.0 2351.1,3747.0" fill="none" stroke="#000" stroke-width="3.4" stroke-dasharray="8 5" stroke-linejoin="round"/>
<polyline points="270.1,4073.3 478.2,4037.5 686.3,4001.0 894.4,3963.7 1102.5,3925.7 1310.6,3887.0 1518.7,3847.6 1726.8,3807.4 1934.9,3766.4 2143.0,3724.8 2351.1,3682.4" fill="none" stroke="#cc2020" stroke-width="3.4" stroke-dasharray="20 5 7 5" stroke-linejoin="round"/>
<polyline points="270.1,4131.8 478.2,4043.7 686.3,3951.2 894.4,3854.4 1102.5,3753.1 1310.6,3647.5 1518.7,3537.5 1726.8,3423.1 1934.9,3304.3 2143.0,3181.1 2351.1,3053.6" fill="none" stroke="#000" stroke-width="3.8" stroke-dasharray="42 13" stroke-linejoin="round"/>
<polyline points="270.1,4073.3 478.2,3983.5 686.3,3889.0 894.4,3789.8 1102.5,3686.1 1310.6,3577.7 1518.7,3464.7 1726.8,3347.0 1934.9,3224.7 2143.0,3097.8 2351.1,2966.3" fill="none" stroke="#cc2020" stroke-width="3.2" stroke-dasharray="4 5" stroke-linejoin="round"/>
<polyline points="270.1,4131.8 478.2,4048.3 686.3,3960.9 894.4,3869.8 1102.5,3775.0 1310.6,3676.3 1518.7,3573.9 1726.8,3467.7 1934.9,3357.7 2143.0,3243.9 2351.1,3126.4" fill="none" stroke="#000" stroke-width="3.4" stroke-dasharray="4 5" stroke-linejoin="round"/>
<polyline points="270.1,4073.3 478.2,3989.5 686.3,3901.3 894.4,3808.7 1102.5,3711.7 1310.6,3610.3 1518.7,3504.4 1726.8,3394.2 1934.9,3279.5 2143.0,3160.5 2351.1,3037.0" fill="none" stroke="#cc2020" stroke-width="3.2" stroke-dasharray="4 5" stroke-linejoin="round"/>
<polygon points="270.1,4111.6 289.7,4131.8 270.1,4152.1 250.5,4131.8" fill="#000"/>
<polygon points="478.2,4008.2 497.8,4028.5 478.2,4048.7 458.6,4028.5" fill="#000"/>
<polygon points="686.3,3898.4 705.9,3918.6 686.3,3938.9 666.7,3918.6" fill="#000"/>
<polygon points="894.4,3782.1 914.0,3802.4 894.4,3822.6 874.8,3802.4" fill="#000"/>
<polygon points="1102.5,3659.3 1122.1,3679.6 1102.5,3699.8 1082.9,3679.6" fill="#000"/>
<polygon points="1310.6,3530.1 1330.2,3550.3 1310.6,3570.6 1291.0,3550.3" fill="#000"/>
<polygon points="1518.7,3394.4 1538.3,3414.6 1518.7,3434.9 1499.1,3414.6" fill="#000"/>
<polygon points="1726.8,3252.1 1746.4,3272.4 1726.8,3292.6 1707.2,3272.4" fill="#000"/>
<polygon points="1934.9,3103.5 1954.5,3123.7 1934.9,3144.0 1915.3,3123.7" fill="#000"/>
<polygon points="2143.0,2948.3 2162.6,2968.6 2143.0,2988.8 2123.4,2968.6" fill="#000"/>
<polygon points="2351.1,2786.7 2370.7,2806.9 2351.1,2827.2 2331.5,2806.9" fill="#000"/>
<polygon points="263.6,4058.8 276.6,4058.8 276.6,4066.8 284.6,4066.8 284.6,4079.8 276.6,4079.8 276.6,4087.8 263.6,4087.8 263.6,4079.8 255.6,4079.8 255.6,4066.8 263.6,4066.8" fill="#ff0d0d" stroke="#300000" stroke-width="2.2" stroke-linejoin="miter"/>
<polygon points="471.7,3953.1 484.7,3953.1 484.7,3961.1 492.7,3961.1 492.7,3974.1 484.7,3974.1 484.7,3982.1 471.7,3982.1 471.7,3974.1 463.7,3974.1 463.7,3961.1 471.7,3961.1" fill="#ff0d0d" stroke="#300000" stroke-width="2.2" stroke-linejoin="miter"/>
<polygon points="679.8,3840.6 692.8,3840.6 692.8,3848.6 700.8,3848.6 700.8,3861.6 692.8,3861.6 692.8,3869.6 679.8,3869.6 679.8,3861.6 671.8,3861.6 671.8,3848.6 679.8,3848.6" fill="#ff0d0d" stroke="#300000" stroke-width="2.2" stroke-linejoin="miter"/>
<polygon points="887.9,3721.3 900.9,3721.3 900.9,3729.3 908.9,3729.3 908.9,3742.3 900.9,3742.3 900.9,3750.3 887.9,3750.3 887.9,3742.3 879.9,3742.3 879.9,3729.3 887.9,3729.3" fill="#ff0d0d" stroke="#300000" stroke-width="2.2" stroke-linejoin="miter"/>
<polygon points="1096.0,3595.1 1109.0,3595.1 1109.0,3603.1 1117.0,3603.1 1117.0,3616.1 1109.0,3616.1 1109.0,3624.1 1096.0,3624.1 1096.0,3616.1 1088.0,3616.1 1088.0,3603.1 1096.0,3603.1" fill="#ff0d0d" stroke="#300000" stroke-width="2.2" stroke-linejoin="miter"/>
<polygon points="1304.1,3462.2 1317.1,3462.2 1317.1,3470.2 1325.1,3470.2 1325.1,3483.2 1317.1,3483.2 1317.1,3491.2 1304.1,3491.2 1304.1,3483.2 1296.1,3483.2 1296.1,3470.2 1304.1,3470.2" fill="#ff0d0d" stroke="#300000" stroke-width="2.2" stroke-linejoin="miter"/>
<polygon points="1512.2,3322.5 1525.2,3322.5 1525.2,3330.5 1533.2,3330.5 1533.2,3343.5 1525.2,3343.5 1525.2,3351.5 1512.2,3351.5 1512.2,3343.5 1504.2,3343.5 1504.2,3330.5 1512.2,3330.5" fill="#ff0d0d" stroke="#300000" stroke-width="2.2" stroke-linejoin="miter"/>
<polygon points="1720.3,3176.0 1733.3,3176.0 1733.3,3184.0 1741.3,3184.0 1741.3,3197.0 1733.3,3197.0 1733.3,3205.0 1720.3,3205.0 1720.3,3197.0 1712.3,3197.0 1712.3,3184.0 1720.3,3184.0" fill="#ff0d0d" stroke="#300000" stroke-width="2.2" stroke-linejoin="miter"/>
<polygon points="1928.4,3022.7 1941.4,3022.7 1941.4,3030.7 1949.4,3030.7 1949.4,3043.7 1941.4,3043.7 1941.4,3051.7 1928.4,3051.7 1928.4,3043.7 1920.4,3043.7 1920.4,3030.7 1928.4,3030.7" fill="#ff0d0d" stroke="#300000" stroke-width="2.2" stroke-linejoin="miter"/>
<polygon points="2136.5,2862.6 2149.5,2862.6 2149.5,2870.6 2157.5,2870.6 2157.5,2883.6 2149.5,2883.6 2149.5,2891.6 2136.5,2891.6 2136.5,2883.6 2128.5,2883.6 2128.5,2870.6 2136.5,2870.6" fill="#ff0d0d" stroke="#300000" stroke-width="2.2" stroke-linejoin="miter"/>
<polygon points="2344.6,2695.7 2357.6,2695.7 2357.6,2703.7 2365.6,2703.7 2365.6,2716.7 2357.6,2716.7 2357.6,2724.7 2344.6,2724.7 2344.6,2716.7 2336.6,2716.7 2336.6,2703.7 2344.6,2703.7" fill="#ff0d0d" stroke="#300000" stroke-width="2.2" stroke-linejoin="miter"/>
<polygon points="270.1,4116.1 285.6,4141.4 254.6,4141.4" fill="#000"/>
<polygon points="478.2,4079.2 493.7,4104.5 462.7,4104.5" fill="#000"/>
<polygon points="686.3,4041.8 701.8,4067.1 670.8,4067.1" fill="#000"/>
<polygon points="894.4,4004.2 909.9,4029.5 878.9,4029.5" fill="#000"/>
<polygon points="1102.5,3966.2 1118.0,3991.5 1087.0,3991.5" fill="#000"/>
<polygon points="1310.6,3927.9 1326.1,3953.2 1295.1,3953.2" fill="#000"/>
<polygon points="1518.7,3889.3 1534.2,3914.6 1503.2,3914.6" fill="#000"/>
<polygon points="1726.8,3850.3 1742.3,3875.6 1711.3,3875.6" fill="#000"/>
<polygon points="1934.9,3810.9 1950.4,3836.2 1919.4,3836.2" fill="#000"/>
<polygon points="2143.0,3771.3 2158.5,3796.6 2127.5,3796.6" fill="#000"/>
<polygon points="2351.1,3731.3 2366.6,3756.6 2335.6,3756.6" fill="#000"/>
<polygon points="255.9,4058.1 270.1,4073.3 255.9,4088.6" fill="#ff0d0d" stroke="#300000" stroke-width="2.2" stroke-linejoin="miter"/><polygon points="284.3,4058.1 270.1,4073.3 284.3,4088.6" fill="#ff0d0d" stroke="#300000" stroke-width="2.2" stroke-linejoin="miter"/>
<polygon points="464.0,4022.3 478.2,4037.5 464.0,4052.8" fill="#ff0d0d" stroke="#300000" stroke-width="2.2" stroke-linejoin="miter"/><polygon points="492.4,4022.3 478.2,4037.5 492.4,4052.8" fill="#ff0d0d" stroke="#300000" stroke-width="2.2" stroke-linejoin="miter"/>
<polygon points="672.1,3985.8 686.3,4001.0 672.1,4016.2" fill="#ff0d0d" stroke="#300000" stroke-width="2.2" stroke-linejoin="miter"/><polygon points="700.5,3985.8 686.3,4001.0 700.5,4016.2" fill="#ff0d0d" stroke="#300000" stroke-width="2.2" stroke-linejoin="miter"/>
<polygon points="880.2,3948.5 894.4,3963.7 880.2,3979.0" fill="#ff0d0d" stroke="#300000" stroke-width="2.2" stroke-linejoin="miter"/><polygon points="908.6,3948.5 894.4,3963.7 908.6,3979.0" fill="#ff0d0d" stroke="#300000" stroke-width="2.2" stroke-linejoin="miter"/>
<polygon points="1088.3,3910.5 1102.5,3925.7 1088.3,3941.0" fill="#ff0d0d" stroke="#300000" stroke-width="2.2" stroke-linejoin="miter"/><polygon points="1116.7,3910.5 1102.5,3925.7 1116.7,3941.0" fill="#ff0d0d" stroke="#300000" stroke-width="2.2" stroke-linejoin="miter"/>
<polygon points="1296.4,3871.8 1310.6,3887.0 1296.4,3902.2" fill="#ff0d0d" stroke="#300000" stroke-width="2.2" stroke-linejoin="miter"/><polygon points="1324.8,3871.8 1310.6,3887.0 1324.8,3902.2" fill="#ff0d0d" stroke="#300000" stroke-width="2.2" stroke-linejoin="miter"/>
<polygon points="1504.5,3832.3 1518.7,3847.6 1504.5,3862.8" fill="#ff0d0d" stroke="#300000" stroke-width="2.2" stroke-linejoin="miter"/><polygon points="1532.9,3832.3 1518.7,3847.6 1532.9,3862.8" fill="#ff0d0d" stroke="#300000" stroke-width="2.2" stroke-linejoin="miter"/>
<polygon points="1712.6,3792.1 1726.8,3807.4 1712.6,3822.6" fill="#ff0d0d" stroke="#300000" stroke-width="2.2" stroke-linejoin="miter"/><polygon points="1741.0,3792.1 1726.8,3807.4 1741.0,3822.6" fill="#ff0d0d" stroke="#300000" stroke-width="2.2" stroke-linejoin="miter"/>
<polygon points="1920.7,3751.2 1934.9,3766.4 1920.7,3781.7" fill="#ff0d0d" stroke="#300000" stroke-width="2.2" stroke-linejoin="miter"/><polygon points="1949.1,3751.2 1934.9,3766.4 1949.1,3781.7" fill="#ff0d0d" stroke="#300000" stroke-width="2.2" stroke-linejoin="miter"/>
<polygon points="2128.8,3709.6 2143.0,3724.8 2128.8,3740.0" fill="#ff0d0d" stroke="#300000" stroke-width="2.2" stroke-linejoin="miter"/><polygon points="2157.2,3709.6 2143.0,3724.8 2157.2,3740.0" fill="#ff0d0d" stroke="#300000" stroke-width="2.2" stroke-linejoin="miter"/>
<polygon points="2336.9,3667.2 2351.1,3682.4 2336.9,3697.6" fill="#ff0d0d" stroke="#300000" stroke-width="2.2" stroke-linejoin="miter"/><polygon points="2365.3,3667.2 2351.1,3682.4 2365.3,3697.6" fill="#ff0d0d" stroke="#300000" stroke-width="2.2" stroke-linejoin="miter"/>
<polygon points="285.3,4138.6 276.8,4147.0 270.1,4140.2 263.4,4147.0 254.9,4138.6 261.7,4131.8 254.9,4125.1 263.4,4116.6 270.1,4123.4 276.8,4116.6 285.3,4125.1 278.5,4131.8" fill="#000"/>
<polygon points="493.4,4050.5 484.9,4058.9 478.2,4052.1 471.5,4058.9 463.0,4050.5 469.8,4043.7 463.0,4037.0 471.5,4028.5 478.2,4035.3 484.9,4028.5 493.4,4037.0 486.6,4043.7" fill="#000"/>
<polygon points="701.5,3958.0 693.0,3966.4 686.3,3959.7 679.6,3966.4 671.1,3958.0 677.9,3951.2 671.1,3944.5 679.6,3936.0 686.3,3942.8 693.0,3936.0 701.5,3944.5 694.7,3951.2" fill="#000"/>
<polygon points="909.6,3861.1 901.1,3869.6 894.4,3862.8 887.7,3869.6 879.2,3861.1 886.0,3854.4 879.2,3847.6 887.7,3839.2 894.4,3845.9 901.1,3839.2 909.6,3847.6 902.8,3854.4" fill="#000"/>
<polygon points="1117.7,3759.9 1109.2,3768.3 1102.5,3761.5 1095.8,3768.3 1087.3,3759.9 1094.1,3753.1 1087.3,3746.4 1095.8,3737.9 1102.5,3744.7 1109.2,3737.9 1117.7,3746.4 1110.9,3753.1" fill="#000"/>
<polygon points="1325.8,3654.2 1317.3,3662.7 1310.6,3655.9 1303.9,3662.7 1295.4,3654.2 1302.2,3647.5 1295.4,3640.7 1303.9,3632.3 1310.6,3639.1 1317.3,3632.3 1325.8,3640.7 1319.0,3647.5" fill="#000"/>
<polygon points="1533.9,3544.2 1525.4,3552.7 1518.7,3545.9 1512.0,3552.7 1503.5,3544.2 1510.3,3537.5 1503.5,3530.7 1512.0,3522.3 1518.7,3529.0 1525.4,3522.3 1533.9,3530.7 1527.1,3537.5" fill="#000"/>
<polygon points="1742.0,3429.8 1733.5,3438.3 1726.8,3431.5 1720.1,3438.3 1711.6,3429.8 1718.4,3423.1 1711.6,3416.3 1720.1,3407.9 1726.8,3414.6 1733.5,3407.9 1742.0,3416.3 1735.2,3423.1" fill="#000"/>
<polygon points="1950.1,3311.1 1941.6,3319.5 1934.9,3312.7 1928.2,3319.5 1919.7,3311.1 1926.5,3304.3 1919.7,3297.6 1928.2,3289.1 1934.9,3295.9 1941.6,3289.1 1950.1,3297.6 1943.3,3304.3" fill="#000"/>
<polygon points="2158.2,3187.9 2149.7,3196.3 2143.0,3189.6 2136.3,3196.3 2127.8,3187.9 2134.6,3181.1 2127.8,3174.4 2136.3,3165.9 2143.0,3172.7 2149.7,3165.9 2158.2,3174.4 2151.4,3181.1" fill="#000"/>
<polygon points="2366.3,3060.3 2357.8,3068.8 2351.1,3062.0 2344.4,3068.8 2335.9,3060.3 2342.7,3053.6 2335.9,3046.9 2344.4,3038.4 2351.1,3045.2 2357.8,3038.4 2366.3,3046.9 2359.5,3053.6" fill="#000"/>
<circle cx="270.1" cy="4073.3" r="13.2" fill="#ff0d0d" stroke="#300000" stroke-width="2.2" stroke-linejoin="miter"/>
<circle cx="478.2" cy="3983.5" r="13.2" fill="#ff0d0d" stroke="#300000" stroke-width="2.2" stroke-linejoin="miter"/>
<circle cx="686.3" cy="3889.0" r="13.2" fill="#ff0d0d" stroke="#300000" stroke-width="2.2" stroke-linejoin="miter"/>
<circle cx="894.4" cy="3789.8" r="13.2" fill="#ff0d0d" stroke="#300000" stroke-width="2.2" stroke-linejoin="miter"/>
<circle cx="1102.5" cy="3686.1" r="13.2" fill="#ff0d0d" stroke="#300000" stroke-width="2.2" stroke-linejoin="miter"/>
<circle cx="1310.6" cy="3577.7" r="13.2" fill="#ff0d0d" stroke="#300000" stroke-width="2.2" stroke-linejoin="miter"/>
<circle cx="1518.7" cy="3464.7" r="13.2" fill="#ff0d0d" stroke="#300000" stroke-width="2.2" stroke-linejoin="miter"/>
<circle cx="1726.8" cy="3347.0" r="13.2" fill="#ff0d0d" stroke="#300000" stroke-width="2.2" stroke-linejoin="miter"/>
<circle cx="1934.9" cy="3224.7" r="13.2" fill="#ff0d0d" stroke="#300000" stroke-width="2.2" stroke-linejoin="miter"/>
<circle cx="2143.0" cy="3097.8" r="13.2" fill="#ff0d0d" stroke="#300000" stroke-width="2.2" stroke-linejoin="miter"/>
<circle cx="2351.1" cy="2966.3" r="13.2" fill="#ff0d0d" stroke="#300000" stroke-width="2.2" stroke-linejoin="miter"/>
<rect x="255.6" y="4117.3" width="29.0" height="29.0" fill="#000"/>
<rect x="463.7" y="4033.7" width="29.0" height="29.0" fill="#000"/>
<rect x="671.8" y="3946.4" width="29.0" height="29.0" fill="#000"/>
<rect x="879.9" y="3855.3" width="29.0" height="29.0" fill="#000"/>
<rect x="1088.0" y="3760.4" width="29.0" height="29.0" fill="#000"/>
<rect x="1296.1" y="3661.8" width="29.0" height="29.0" fill="#000"/>
<rect x="1504.2" y="3559.3" width="29.0" height="29.0" fill="#000"/>
<rect x="1712.3" y="3453.1" width="29.0" height="29.0" fill="#000"/>
<rect x="1920.4" y="3343.1" width="29.0" height="29.0" fill="#000"/>
<rect x="2128.5" y="3229.4" width="29.0" height="29.0" fill="#000"/>
<rect x="2336.6" y="3111.8" width="29.0" height="29.0" fill="#000"/>
<polygon points="270.1,4054.4 279.6,4073.3 270.1,4092.3 260.6,4073.3" fill="#ff0d0d" stroke="#300000" stroke-width="2.2" stroke-linejoin="miter"/>
<polygon points="478.2,3970.6 487.7,3989.5 478.2,4008.5 468.7,3989.5" fill="#ff0d0d" stroke="#300000" stroke-width="2.2" stroke-linejoin="miter"/>
<polygon points="686.3,3882.4 695.8,3901.3 686.3,3920.3 676.8,3901.3" fill="#ff0d0d" stroke="#300000" stroke-width="2.2" stroke-linejoin="miter"/>
<polygon points="894.4,3789.7 903.9,3808.7 894.4,3827.7 884.9,3808.7" fill="#ff0d0d" stroke="#300000" stroke-width="2.2" stroke-linejoin="miter"/>
<polygon points="1102.5,3692.7 1112.0,3711.7 1102.5,3730.7 1093.0,3711.7" fill="#ff0d0d" stroke="#300000" stroke-width="2.2" stroke-linejoin="miter"/>
<polygon points="1310.6,3591.3 1320.1,3610.3 1310.6,3629.2 1301.1,3610.3" fill="#ff0d0d" stroke="#300000" stroke-width="2.2" stroke-linejoin="miter"/>
<polygon points="1518.7,3485.4 1528.2,3504.4 1518.7,3523.4 1509.2,3504.4" fill="#ff0d0d" stroke="#300000" stroke-width="2.2" stroke-linejoin="miter"/>
<polygon points="1726.8,3375.2 1736.3,3394.2 1726.8,3413.2 1717.3,3394.2" fill="#ff0d0d" stroke="#300000" stroke-width="2.2" stroke-linejoin="miter"/>
<polygon points="1934.9,3260.5 1944.4,3279.5 1934.9,3298.5 1925.4,3279.5" fill="#ff0d0d" stroke="#300000" stroke-width="2.2" stroke-linejoin="miter"/>
<polygon points="2143.0,3141.5 2152.5,3160.5 2143.0,3179.4 2133.5,3160.5" fill="#ff0d0d" stroke="#300000" stroke-width="2.2" stroke-linejoin="miter"/>
<polygon points="2351.1,3018.0 2360.6,3037.0 2351.1,3056.0 2341.6,3037.0" fill="#ff0d0d" stroke="#300000" stroke-width="2.2" stroke-linejoin="miter"/>
</g>
<rect x="270.1" y="2373.7" width="2081.2" height="2103.1" fill="none" stroke="#3a3a3a" stroke-width="2.6"/>
<rect x="346.5" y="2446.5" width="1208.5" height="662.5" fill="#fff" stroke="#222" stroke-width="2.4"/>
<polyline points="418.0,2521.6 548.0,2521.6" fill="none" stroke="#000" stroke-width="5.0" stroke-dasharray="22 7" stroke-linejoin="round"/>
<polygon points="484.0,2501.3 503.6,2521.6 484.0,2541.8 464.4,2521.6" fill="#000"/>
<text x="623.0" y="2542.6" font-size="63" text-anchor="start">Diamond (EMA)</text>
<polyline points="418.0,2595.3 548.0,2595.3" fill="none" stroke="#cc2020" stroke-width="4.2" stroke-dasharray="22 4" stroke-linejoin="round"/>
<polygon points="477.5,2580.8 490.5,2580.8 490.5,2588.8 498.5,2588.8 498.5,2601.8 490.5,2601.8 490.5,2609.8 477.5,2609.8 477.5,2601.8 469.5,2601.8 469.5,2588.8 477.5,2588.8" fill="#ff0d0d" stroke="#300000" stroke-width="2.2" stroke-linejoin="miter"/>
<text x="623.0" y="2616.3" font-size="63" text-anchor="start">Diamond (Hasselman &amp; Johnson)</text>
<polyline points="418.0,2669.0 548.0,2669.0" fill="none" stroke="#000" stroke-width="4.6" stroke-dasharray="8 5" stroke-linejoin="round"/>
<polygon points="484.0,2653.3 499.5,2678.6 468.5,2678.6" fill="#000"/>
<text x="623.0" y="2690.0" font-size="63" text-anchor="start">TiN (EMA)</text>
<polyline points="418.0,2742.7 548.0,2742.7" fill="none" stroke="#cc2020" stroke-width="4.6" stroke-dasharray="20 5 7 5" stroke-linejoin="round"/>
<polygon points="469.8,2727.5 484.0,2742.7 469.8,2757.9" fill="#ff0d0d" stroke="#300000" stroke-width="2.2" stroke-linejoin="miter"/><polygon points="498.2,2727.5 484.0,2742.7 498.2,2757.9" fill="#ff0d0d" stroke="#300000" stroke-width="2.2" stroke-linejoin="miter"/>
<text x="623.0" y="2763.7" font-size="63" text-anchor="start">TiN (Hasselman &amp; Johnson)</text>
<polyline points="418.0,2816.4 548.0,2816.4" fill="none" stroke="#000" stroke-width="5.0" stroke-dasharray="42 13" stroke-linejoin="round"/>
<polygon points="499.2,2823.1 490.7,2831.6 484.0,2824.8 477.3,2831.6 468.8,2823.1 475.6,2816.4 468.8,2809.7 477.3,2801.2 484.0,2808.0 490.7,2801.2 499.2,2809.7 492.4,2816.4" fill="#000"/>
<text x="623.0" y="2837.4" font-size="63" text-anchor="start">SiC (EMA)</text>
<polyline points="418.0,2890.1 548.0,2890.1" fill="none" stroke="#cc2020" stroke-width="4.4" stroke-dasharray="4 5" stroke-linejoin="round"/>
<circle cx="484.0" cy="2890.1" r="13.2" fill="#ff0d0d" stroke="#300000" stroke-width="2.2" stroke-linejoin="miter"/>
<text x="623.0" y="2911.1" font-size="63" text-anchor="start">SiC (Hasselman &amp; Johnson)</text>
<polyline points="418.0,2963.8 548.0,2963.8" fill="none" stroke="#000" stroke-width="4.6" stroke-dasharray="4 5" stroke-linejoin="round"/>
<rect x="469.5" y="2949.3" width="29.0" height="29.0" fill="#000"/>
<text x="623.0" y="2984.8" font-size="63" text-anchor="start">Ni (EMA)</text>
<polyline points="418.0,3037.5 548.0,3037.5" fill="none" stroke="#cc2020" stroke-width="4.4" stroke-dasharray="4 5" stroke-linejoin="round"/>
<polygon points="484.0,3018.5 493.5,3037.5 484.0,3056.5 474.5,3037.5" fill="#ff0d0d" stroke="#300000" stroke-width="2.2" stroke-linejoin="miter"/>
<text x="623.0" y="3058.5" font-size="63" text-anchor="start">Ni (Hasselman &amp; Johnson)</text>
<text x="335.0" y="3197.8" font-size="82" text-anchor="start" xml:space="preserve">R = 5.0x10<tspan dy="-33" font-size="50">-8</tspan><tspan dy="33"> </tspan> K.m<tspan dy="-33" font-size="50">2</tspan><tspan dy="33">/W</tspan></text>
<text x="340.0" y="3299.9" font-size="82" text-anchor="start">Porosity = 2%</text>
<text x="246.5" y="2401.2" font-size="82" text-anchor="end">14</text>
<text x="250.3" y="2821.8" font-size="82" text-anchor="end">12</text>
<text x="246.5" y="3242.4" font-size="82" text-anchor="end">10</text>
<text x="246.5" y="3663.0" font-size="82" text-anchor="end">8</text>
<text x="246.5" y="4083.6" font-size="82" text-anchor="end">6</text>
<text x="246.5" y="4504.2" font-size="82" text-anchor="end">4</text>
<text x="270.1" y="4573.0" font-size="82" text-anchor="middle">0</text>
<text x="686.3" y="4573.0" font-size="82" text-anchor="middle">0.05</text>
<text x="1102.5" y="4573.0" font-size="82" text-anchor="middle">0.1</text>
<text x="1518.7" y="4573.0" font-size="82" text-anchor="middle">0.15</text>
<text x="1934.9" y="4573.0" font-size="82" text-anchor="middle">0.2</text>
<text x="2351.1" y="4573.0" font-size="82" text-anchor="middle">0.25</text>
<text x="885.0" y="4664.8" font-size="82.6" text-anchor="start">Vol. fraction of inclusions</text>
<text transform="translate(98.4,3990) rotate(-90)" font-size="82.5">Thermal Conductivity (W m<tspan dy="-33" font-size="50">-1</tspan><tspan dy="33"> K</tspan><tspan dy="-33" font-size="50">-1</tspan><tspan dy="33">)</tspan></text>
<text x="1210" y="4769.5" font-size="76" text-anchor="middle">(<tspan font-weight="bold">b</tspan>)</text>
</svg>
</body></html>
